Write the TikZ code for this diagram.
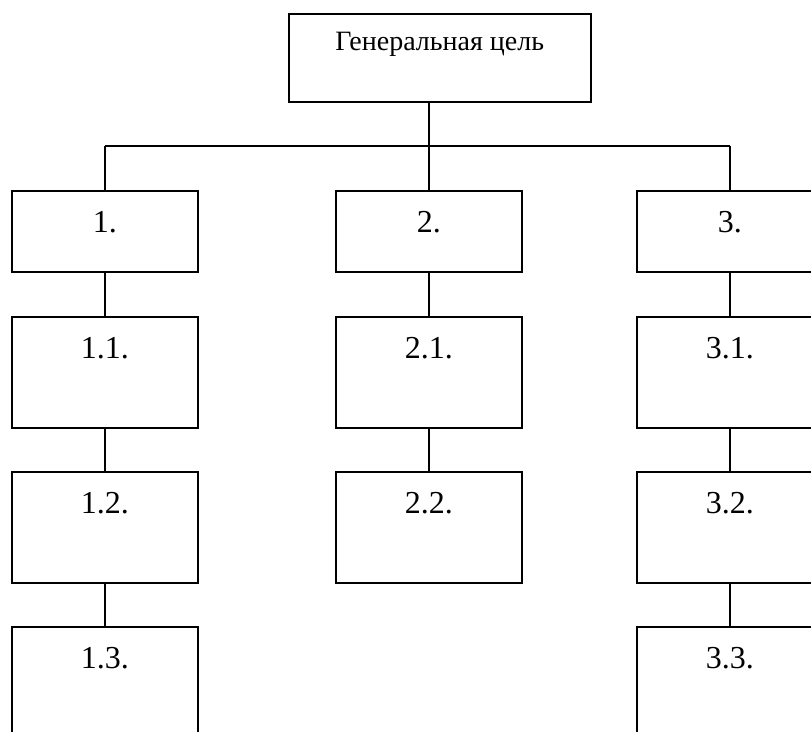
\documentclass[tikz,border=0pt]{standalone}
\usepackage{fontspec}
\setmainfont{Liberation Serif}
\begin{document}
\begin{tikzpicture}[x=1pt,y=-1pt,
  box/.style={draw, line width=1.5pt, rectangle, anchor=north west, inner sep=0pt, minimum width=186pt},
  small/.style={box, minimum height=81pt},
  tall/.style={box, minimum height=111pt},
  numtxt/.style={anchor=base, font=\fontsize{32}{36}\selectfont},
  conn/.style={line width=1.5pt}]
\clip (0,0) rectangle (811,731);
\fill[white] (0,0) rectangle (811,731);
% top
\node[box, minimum width=302pt, minimum height=88pt] (top) at (288,13) {};
\node[anchor=base, font=\fontsize{28}{31}\selectfont] (toptxt) at ([yshift=-37pt]top.north) {Генеральная цель};
% level 1
\node[small] (n1) at (11,190) {};
\node[small] (n2) at (335,190) {};
\node[small] (n3) at (636,190) {};
% level 2
\node[tall] (n11) at (11,316) {};
\node[tall] (n21) at (335,316) {};
\node[tall] (n31) at (636,316) {};
% level 3
\node[tall] (n12) at (11,471) {};
\node[tall] (n22) at (335,471) {};
\node[tall] (n32) at (636,471) {};
% level 4
\node[tall] (n13) at (11,626) {};
\node[tall] (n33) at (636,626) {};
% texts
\foreach \n/\t in {n1/1., n2/2., n3/3., n11/1.1., n21/2.1., n31/3.1., n12/1.2., n22/2.2., n32/3.2., n13/1.3., n33/3.3.}
  \node[numtxt] (\n t) at ([yshift=-42pt]\n.north) {\t};
% connectors
\coordinate (b1) at (n1.north |- 0,146);
\coordinate (b2) at (n2.north |- 0,146);
\coordinate (b3) at (n3.north |- 0,146);
\draw[conn] (top.south -| b2) -- (b2);
\draw[conn] (b1) -- (b3);
\draw[conn] (b1) -- (n1.north);
\draw[conn] (b2) -- (n2.north);
\draw[conn] (b3) -- (n3.north);
\draw[conn] (n1.south) -- (n11.north);
\draw[conn] (n11.south) -- (n12.north);
\draw[conn] (n12.south) -- (n13.north);
\draw[conn] (n2.south) -- (n21.north);
\draw[conn] (n21.south) -- (n22.north);
\draw[conn] (n3.south) -- (n31.north);
\draw[conn] (n31.south) -- (n32.north);
\draw[conn] (n32.south) -- (n33.north);
\end{tikzpicture}
\end{document}
